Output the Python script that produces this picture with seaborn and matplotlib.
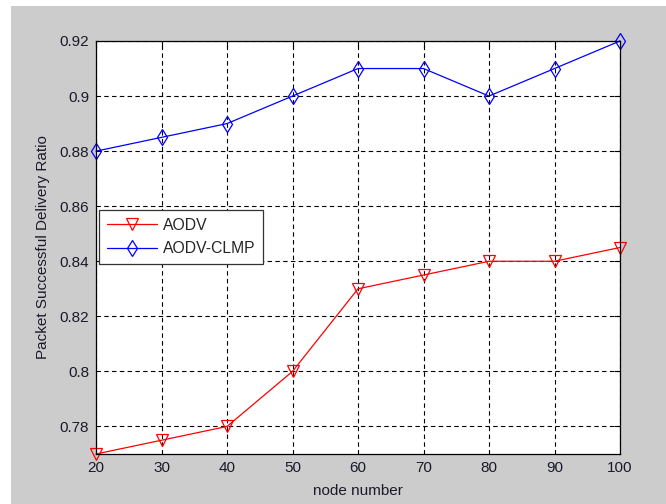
import pandas as pd
import matplotlib.pyplot as plt
import seaborn as sns
from matplotlib.patches import Rectangle
from matplotlib.ticker import FormatStrFormatter
plt.switch_backend('Agg')

# data
nodes = [20, 30, 40, 50, 60, 70, 80, 90, 100]
aodv = [0.770, 0.775, 0.780, 0.800, 0.830, 0.835, 0.840, 0.840, 0.845]
aodv_clmp = [0.880, 0.885, 0.890, 0.900, 0.910, 0.910, 0.900, 0.910, 0.920]

df = pd.DataFrame({
    'node number': nodes * 2,
    'ratio': aodv + aodv_clmp,
    'protocol': ['AODV'] * len(nodes) + ['AODV-CLMP'] * len(nodes),
})

sns.set_style('white')
plt.rcParams['font.family'] = ['Liberation Sans', 'DejaVu Sans']

fig = plt.figure(figsize=(6.66, 5.04), dpi=100, facecolor='white')
# grey matlab-like figure background
fig.patches.append(Rectangle((11 / 666, 0), 1, 1 - 6 / 504, transform=fig.transFigure,
                             facecolor='#cccccc', edgecolor='none', zorder=-1))
ax = fig.add_axes([96 / 666, 50 / 504, 524 / 666, 413 / 504])
ax.set_facecolor('white')

sns.lineplot(data=df, x='node number', y='ratio', hue='protocol', style='protocol',
             palette={'AODV': '#ff0000', 'AODV-CLMP': '#0000ff'},
             markers={'AODV': 'v', 'AODV-CLMP': 'd'}, dashes=False,
             markersize=8.5, markerfacecolor='none', markeredgewidth=0.9,
             linewidth=0.9, ax=ax)
for line in ax.lines:
    line.set_markeredgecolor(line.get_color())
    line.set_markerfacecolor('none')
    line.set_clip_on(False)

ax.set_xlim(20, 100)
ax.set_ylim(0.77, 0.92)
ax.set_xticks(nodes)
ax.set_yticks([0.78, 0.80, 0.82, 0.84, 0.86, 0.88, 0.90, 0.92])
ax.yaxis.set_major_formatter(FormatStrFormatter('%g'))
ax.grid(True, color='black', linestyle=(0, (4, 3)), linewidth=0.8)
ax.tick_params(direction='in', top=True, right=True, length=4, labelsize=11,
               color='black', labelcolor='#1a1a2a', pad=5)
for s in ax.spines.values():
    s.set_color('black')
    s.set_linewidth(0.9)
ax.set_xlabel('node number', fontsize=11, color='#1a1a2a')
ax.set_ylabel('Packet Successful Delivery Ratio', fontsize=11, color='#1a1a2a')
ax.yaxis.set_label_coords(-0.088, 0.5)
ax.xaxis.set_label_coords(0.5, -0.072)

leg = ax.legend(loc='upper left', bbox_to_anchor=(0.006, 0.591), borderaxespad=0,
                fontsize=11.3, frameon=True, fancybox=False, framealpha=1,
                edgecolor='#333333', borderpad=0.5, handlelength=3.2,
                handletextpad=0.35, labelspacing=0.55)
leg.get_frame().set_linewidth(0.9)
for h in leg.legend_handles:
    h.set_markerfacecolor('none')
    h.set_markeredgecolor(h.get_color())

plt.savefig('out.png', dpi=100, facecolor=fig.get_facecolor())
